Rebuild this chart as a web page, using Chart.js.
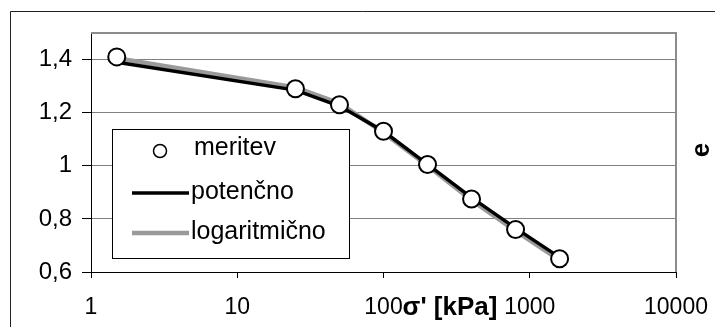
<!DOCTYPE html>
<html lang="sl">
<head>
  <meta charset="UTF-8">
  <title>e - log sigma'</title>
  <style>
    body { margin: 0; background: #fff; }
  </style>
</head>
<body>
  <canvas id="graf" width="715" height="327"></canvas>

  <script src="https://cdn.jsdelivr.net/npm/chart.js"></script>

  <script>
    // podatki (odčitani s slike)
    const sigma = [1.5, 25, 50, 100, 200, 400, 800, 1600]
    const meritev = [1.41, 1.29, 1.23, 1.13, 1.005, 0.875, 0.76, 0.65]
    const potencno = [1.39, 1.285, 1.225, 1.13, 1.005, 0.88, 0.765, 0.655]
    const logaritmicno = [1.405, 1.295, 1.235, 1.125, 1.0, 0.87, 0.755, 0.645]

    const xTicks = [1, 10, 100, 1000, 10000]
    const yTicks = [0.6, 0.8, 1.0, 1.2, 1.4]

    const naslovX = "σ' [kPa]"
    const naslovY = "e"

    const pisava = "'Liberation Sans', Arial, sans-serif"

    let tocke = (ys) => sigma.map((s, i) => ({ x: s, y: ys[i] }))

    // okvir, naslovi osi in legenda
    const okras = {
      id: 'okras',
      beforeDraw(chart) {
        const c = chart.ctx
        c.save()
        c.strokeStyle = '#222'
        c.lineWidth = 1
        c.beginPath()
        c.moveTo(10.5, 400)
        c.lineTo(10.5, 11.5)
        c.lineTo(715, 11.5)
        c.stroke()
        c.restore()
      },
      beforeDatasetsDraw(chart) {
        const c = chart.ctx
        const a = chart.chartArea
        c.save()
        c.strokeStyle = '#8c8c8c'
        c.lineWidth = 2
        c.beginPath()
        c.moveTo(a.left, a.top)
        c.lineTo(a.right, a.top)
        c.lineTo(a.right, a.bottom)
        c.stroke()
        c.restore()
      },
      afterDatasetsDraw(chart) {
        const c = chart.ctx
        const ds = chart.data.datasets
        c.save()
        // legenda
        c.fillStyle = '#fff'
        c.fillRect(112, 129, 237, 129)
        c.strokeStyle = '#000'
        c.lineWidth = 1
        c.strokeRect(112.5, 129.5, 237, 129)

        c.font = '25px ' + pisava
        c.textBaseline = 'middle'
        c.textAlign = 'left'
        c.fillStyle = '#000'

        // meritev
        c.beginPath()
        c.arc(160, 151, 6.5, 0, Math.PI * 2)
        c.fillStyle = '#fff'
        c.fill()
        c.lineWidth = 1.5
        c.strokeStyle = '#000'
        c.stroke()
        c.fillStyle = '#000'
        c.fillText(ds[0].label, 194, 148)

        // crte
        const vrst = [[ds[1], 193], [ds[2], 233]]
        vrst.forEach(([d, y]) => {
          c.strokeStyle = d.borderColor
          c.lineWidth = d.borderWidth
          c.beginPath()
          c.moveTo(132, y)
          c.lineTo(189, y)
          c.stroke()
          c.fillText(d.label, 191, y - 1)
        })

        // naslova osi
        c.font = 'bold 26px ' + pisava
        c.textAlign = 'center'
        c.fillText(naslovX, 450, 308)

        c.translate(702, 150)
        c.rotate(-Math.PI / 2)
        c.fillText(naslovY, 0, 0)
        c.restore()
      }
    }

    const ctx = document.getElementById('graf')

    let graf = new Chart(ctx, {
      type: 'scatter',
      data: {
        datasets: [
          {
            label: 'meritev',
            data: tocke(meritev),
            showLine: false,
            pointRadius: 8.5,
            pointBorderWidth: 2,
            pointBorderColor: '#000',
            pointBackgroundColor: '#fff'
          },
          {
            label: 'potenčno',
            data: tocke(potencno),
            showLine: true,
            borderColor: '#000',
            borderWidth: 3.5,
            pointRadius: 0,
            tension: 0
          },
          {
            label: 'logaritmično',
            data: tocke(logaritmicno),
            showLine: true,
            borderColor: '#9a9a9a',
            borderWidth: 4.5,
            pointRadius: 0,
            tension: 0
          }
        ]
      },
      options: {
        responsive: false,
        animation: false,
        devicePixelRatio: 1,
        layout: { padding: { left: 0, right: 39, top: 33, bottom: 0 } },
        plugins: {
          legend: { display: false },
          tooltip: { enabled: false }
        },
        scales: {
          x: {
            type: 'logarithmic',
            min: 1,
            max: 10000,
            afterBuildTicks: s => { s.ticks = xTicks.map(v => ({ value: v })) },
            afterFit: s => { s.height = 55; s.paddingLeft = 0; s.paddingRight = 0 },
            grid: { drawOnChartArea: false, tickLength: 6, tickColor: '#000' },
            border: { color: '#000', width: 1 },
            ticks: {
              color: '#000',
              font: { family: pisava, size: 23 },
              padding: 16,
              maxRotation: 0,
              autoSkip: false,
              callback: v => String(v)
            }
          },
          y: {
            min: 0.6,
            max: 1.5,
            afterBuildTicks: s => { s.ticks = yTicks.map(v => ({ value: v })) },
            afterFit: s => { s.width = 91; s.paddingTop = 0; s.paddingBottom = 0 },
            grid: { color: '#808080', lineWidth: 1, tickLength: 9, tickColor: '#000' },
            border: { color: '#000', width: 1 },
            ticks: {
              color: '#000',
              font: { family: pisava, size: 24 },
              padding: 10,
              callback: v => String(+v.toFixed(1)).replace('.', ',')
            }
          }
        }
      },
      plugins: [okras]
    })
  </script>
</body>
</html>
